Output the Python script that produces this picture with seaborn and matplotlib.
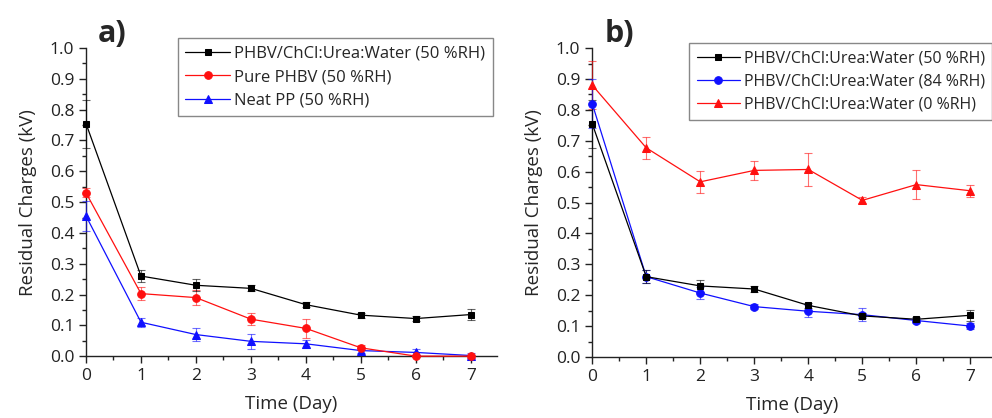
import numpy as np
import pandas as pd
import matplotlib
matplotlib.use("Agg")
import matplotlib.pyplot as plt
from matplotlib.ticker import MultipleLocator
import seaborn as sns

# data
days = [0, 1, 2, 3, 4, 5, 6, 7]

des_50 = [0.755, 0.260, 0.230, 0.220, 0.167, 0.133, 0.122, 0.135]
des_50_err = [0.078, 0.020, 0.020, 0.010, 0.008, 0.008, 0.008, 0.018]

pure_phbv = [0.530, 0.203, 0.190, 0.120, 0.090, 0.027, 0.000, 0.000]
pure_phbv_err = [0.015, 0.022, 0.025, 0.020, 0.032, 0.008, 0.003, 0.005]

neat_pp = [0.455, 0.110, 0.070, 0.048, 0.040, 0.018, 0.012, 0.002]
neat_pp_err = [0.050, 0.015, 0.020, 0.025, 0.012, 0.008, 0.010, 0.008]

des_84 = [0.820, 0.260, 0.207, 0.163, 0.148, 0.137, 0.118, 0.100]
des_84_err = [0.080, 0.020, 0.018, 0.008, 0.020, 0.022, 0.008, 0.010]

des_0 = [0.880, 0.677, 0.567, 0.604, 0.607, 0.507, 0.558, 0.538]
des_0_err = [0.078, 0.036, 0.036, 0.030, 0.052, 0.010, 0.046, 0.020]

sns.set_style("ticks")
plt.rcParams['font.family'] = ['Open Sans', 'DejaVu Sans']

fig = plt.figure(figsize=(9.92, 4.18), dpi=100)
ax_a = fig.add_axes([0.0867, 0.148, 0.414, 0.737])
ax_b = fig.add_axes([0.597, 0.146, 0.403, 0.739])


def draw(ax, y, err, color, marker, label, ms):
    ax.errorbar(days, y, yerr=err, fmt="none", ecolor=color, elinewidth=0.8,
                capsize=3, capthick=0.8, alpha=0.6, clip_on=False, zorder=3)
    df = pd.DataFrame({"day": days, "val": y})
    sns.lineplot(data=df, x="day", y="val", ax=ax, color=color, marker=marker,
                 markersize=ms, markeredgecolor=color, linewidth=0.9,
                 label=label, clip_on=False, zorder=4)


draw(ax_a, neat_pp, neat_pp_err, "#1010ff", "^", "Neat PP (50 %RH)", 6)
draw(ax_a, pure_phbv, pure_phbv_err, "#ff1010", "o", "Pure PHBV (50 %RH)", 5.5)
draw(ax_a, des_50, des_50_err, "black", "s", "PHBV/ChCl:Urea:Water (50 %RH)", 5)

draw(ax_b, des_0, des_0_err, "#ff1010", "^", "PHBV/ChCl:Urea:Water (0 %RH)", 6)
draw(ax_b, des_84, des_84_err, "#1010ff", "o", "PHBV/ChCl:Urea:Water (84 %RH)", 5.5)
draw(ax_b, des_50, des_50_err, "black", "s", "PHBV/ChCl:Urea:Water (50 %RH)", 5)

for ax, xmax, lfs in [(ax_a, 7.47, 12), (ax_b, 7.4, 11.5)]:
    ax.set_xlim(0, xmax)
    ax.set_ylim(0, 1.0)
    ax.xaxis.set_major_locator(MultipleLocator(1))
    ax.xaxis.set_minor_locator(MultipleLocator(0.5))
    ax.yaxis.set_major_locator(MultipleLocator(0.1))
    ax.yaxis.set_minor_locator(MultipleLocator(0.05))
    ax.yaxis.set_major_formatter(matplotlib.ticker.FormatStrFormatter("%.1f"))
    ax.tick_params(which="major", length=5, width=1, labelsize=12.5, colors="#222222")
    ax.tick_params(which="minor", length=3, width=1, colors="#222222")
    sns.despine(ax=ax)
    for s in ["left", "bottom"]:
        ax.spines[s].set_linewidth(1.0)
        ax.spines[s].set_color("#222222")
    ax.set_xlabel("Time (Day)", fontsize=13.5, labelpad=8)
    ax.set_ylabel("Residual Charges (kV)", fontsize=13.5, labelpad=9)

    handles, labels = ax.get_legend_handles_labels()
    leg = ax.legend(handles[::-1], labels[::-1], fontsize=lfs, handlelength=2.7,
                    handletextpad=0.25, labelspacing=0.45, borderpad=0.45,
                    borderaxespad=0, fancybox=False, framealpha=1,
                    edgecolor="#888888", loc="upper left")
    leg.get_frame().set_linewidth(1.0)

# legend placement (figure coords)
ax_a.get_legend().set_bbox_to_anchor((0.179, 0.909), transform=fig.transFigure)
ax_b.get_legend().set_bbox_to_anchor((0.695, 0.897), transform=fig.transFigure)

fig.text(0.099, 0.900, "a)", fontsize=22, fontweight="bold")
fig.text(0.610, 0.900, "b)", fontsize=22, fontweight="bold")

fig.savefig("out.png", dpi=100)
